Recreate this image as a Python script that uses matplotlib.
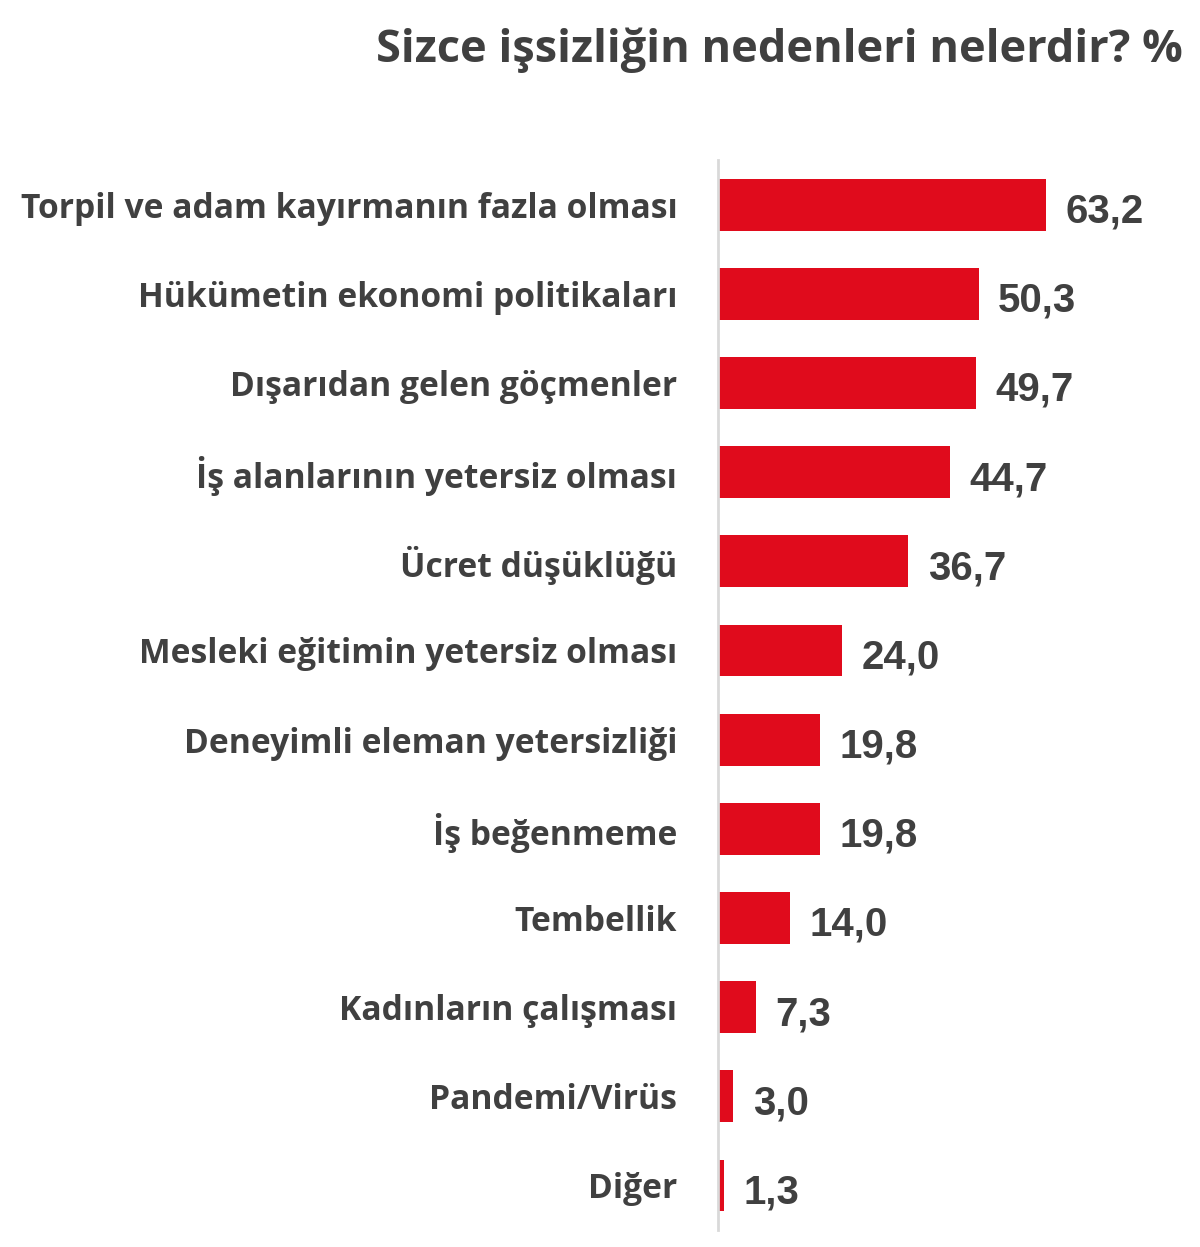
import matplotlib.pyplot as plt

# Survey: "Sizce işsizliğin nedenleri nelerdir?" (%)
categories = [
    'Torpil ve adam kayırmanın fazla olması',
    'Hükümetin ekonomi politikaları',
    'Dışarıdan gelen göçmenler',
    'İş alanlarının yetersiz olması',
    'Ücret düşüklüğü',
    'Mesleki eğitimin yetersiz olması',
    'Deneyimli eleman yetersizliği',
    'İş beğenmeme',
    'Tembellik',
    'Kadınların çalışması',
    'Pandemi/Virüs',
    'Diğer',
]
values = [63.2, 50.3, 49.7, 44.7, 36.7, 24.0, 19.8, 19.8, 14.0, 7.3, 3.0, 1.3]

bar_color = '#e00b1c'
text_color = '#404040'

fig = plt.figure(figsize=(12, 12.47), dpi=100)
ax = fig.add_axes([0.598, 0.0136, 0.402, 0.858])

y = list(range(len(categories)))
ax.barh(y, values, height=0.58, color=bar_color)
ax.set_ylim(len(categories) - 0.5, -0.5)
ax.set_xlim(0, 92.9)

ax.set_yticks(y)
ax.set_yticklabels(categories, fontfamily='Open Sans', fontweight='bold',
                   fontsize=24.2, color=text_color)
ax.tick_params(axis='y', length=0, pad=29)
ax.set_xticks([])

for s in ['top', 'right', 'bottom']:
    ax.spines[s].set_visible(False)
ax.spines['left'].set_color('#d9d9d9')
ax.spines['left'].set_linewidth(2)

for i, v in enumerate(values):
    ax.annotate(f'{v:.1f}'.replace('.', ','), (v, i), xytext=(14, -5),
                textcoords='offset points', va='center', ha='left',
                fontfamily='Liberation Sans', fontweight='bold',
                fontsize=29, color=text_color)

fig.text(0.986, 0.96, 'Sizce işsizliğin nedenleri nelerdir? %',
         ha='right', va='center', fontfamily='Open Sans', fontweight='bold',
         fontsize=32.5, color=text_color)

fig.savefig('out.png', dpi=100, facecolor='white')
